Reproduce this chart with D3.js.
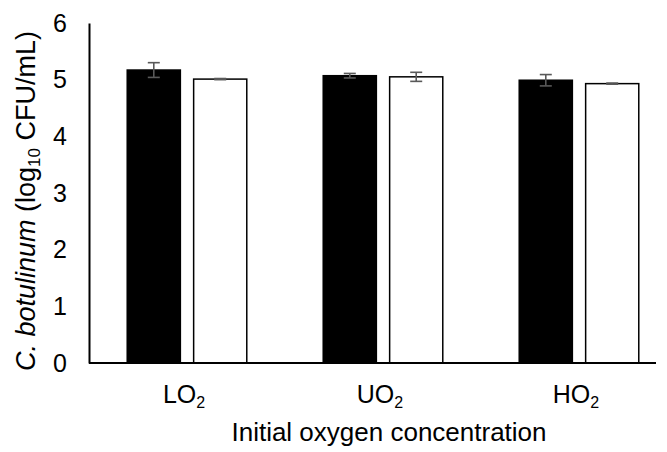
<!DOCTYPE html>
<html>
<head>
<meta charset="utf-8">
<script src="https://cdn.jsdelivr.net/npm/d3@7"></script>
<style>
  html, body { margin: 0; padding: 0; background: #fff; }
  svg { display: block; font-family: "Liberation Sans", Arial, sans-serif; }
</style>
</head>
<body>
<svg id="chart" width="667" height="452"></svg>
<script>
// Oxygen treatments on the x axis
const categories = ["LO", "UO", "HO"];
// Two series per treatment: filled (black) and open (white) bars
const seriesNames = ["filled", "open"];
const filledMeans = [5.17, 5.07, 4.99];
const filledErrors = [0.13, 0.04, 0.10];
const openMeans = [5.01, 5.05, 4.93];
const openErrors = [0.01, 0.08, 0.01];
const yTicks = [0, 1, 2, 3, 4, 5, 6];

const FONT = "'Liberation Sans', Arial, sans-serif";
const svg = d3.select("#chart");
const margin = { left: 89, top: 23, bottom: 363, right: 677 };

const y = d3.scaleLinear().domain([0, 6]).range([margin.bottom, margin.top]);
const x0 = d3.scaleBand().domain(categories).range([margin.left, margin.right]).padding(0);
const bw = x0.bandwidth();
const x1 = d3.scaleBand().domain(seriesNames).range([bw * 0.195, bw * 0.805]).paddingInner(0.2);

const rows = categories.map((c, i) => ({
  cat: c,
  vals: [
    { s: "filled", v: filledMeans[i], e: filledErrors[i] },
    { s: "open", v: openMeans[i], e: openErrors[i] }
  ]
}));

const groups = svg.append("g").selectAll("g").data(rows).join("g")
  .attr("transform", d => `translate(${x0(d.cat)},0)`);

groups.selectAll("rect").data(d => d.vals).join("rect")
  .attr("x", d => x1(d.s))
  .attr("y", d => y(d.v))
  .attr("width", x1.bandwidth())
  .attr("height", d => y(0) - y(d.v))
  .attr("fill", d => d.s === "filled" ? "#000" : "#fff")
  .attr("stroke", "#000")
  .attr("stroke-width", 1.5);

// error bars
const eb = groups.selectAll("g.err").data(d => d.vals).join("g").attr("class", "err")
  .attr("stroke", "#595959").attr("stroke-width", 1.6).attr("fill", "none");
const cx = d => x1(d.s) + x1.bandwidth() / 2;
eb.append("line").attr("x1", cx).attr("x2", cx)
  .attr("y1", d => y(d.v + d.e)).attr("y2", d => y(d.v - d.e));
eb.append("line").attr("x1", d => cx(d) - 6).attr("x2", d => cx(d) + 6)
  .attr("y1", d => y(d.v + d.e)).attr("y2", d => y(d.v + d.e));
eb.append("line").attr("x1", d => cx(d) - 6).attr("x2", d => cx(d) + 6)
  .attr("y1", d => y(d.v - d.e)).attr("y2", d => y(d.v - d.e));

// y axis
const yAxis = d3.axisLeft(y).tickValues(yTicks).tickSize(0).tickPadding(22).tickFormat(d3.format("d"));
const gy = svg.append("g").attr("transform", `translate(${margin.left},0)`).call(yAxis);
gy.select(".domain").attr("stroke", "#000").attr("stroke-width", 2);
gy.selectAll("text").attr("font-size", 25).attr("fill", "#000").attr("font-family", FONT);

// x axis
const xAxis = d3.axisBottom(x0).tickSize(0).tickPadding(14).tickFormat("");
const gx = svg.append("g").attr("transform", `translate(0,${margin.bottom})`).call(xAxis);
gx.select(".domain").attr("stroke", "#000").attr("stroke-width", 2).attr("d", `M${margin.left},0H656`);
gx.selectAll(".tick").each(function (d) {
  const t = d3.select(this).append("text")
    .attr("x", -3).attr("y", 40).attr("text-anchor", "middle").attr("fill", "#000")
    .attr("font-size", 25).attr("font-family", FONT);
  t.append("tspan").text(d);
  t.append("tspan").text("2").attr("font-size", 16).attr("dy", 5);
});

// axis titles
svg.append("text")
  .attr("x", 389).attr("y", 441).attr("text-anchor", "middle")
  .attr("font-size", 26).attr("fill", "#000").attr("font-family", FONT)
  .text("Initial oxygen concentration");

const yt = svg.append("text")
  .attr("transform", "translate(35,201) rotate(-90)")
  .attr("text-anchor", "middle").attr("font-size", 27).attr("fill", "#000").attr("font-family", FONT);
yt.append("tspan").attr("font-style", "italic").text("C. botulinum");
yt.append("tspan").text(" (log");
yt.append("tspan").text("10").attr("font-size", 17).attr("dy", 5);
yt.append("tspan").text(" CFU/mL)").attr("dy", -5);
</script>
</body>
</html>
